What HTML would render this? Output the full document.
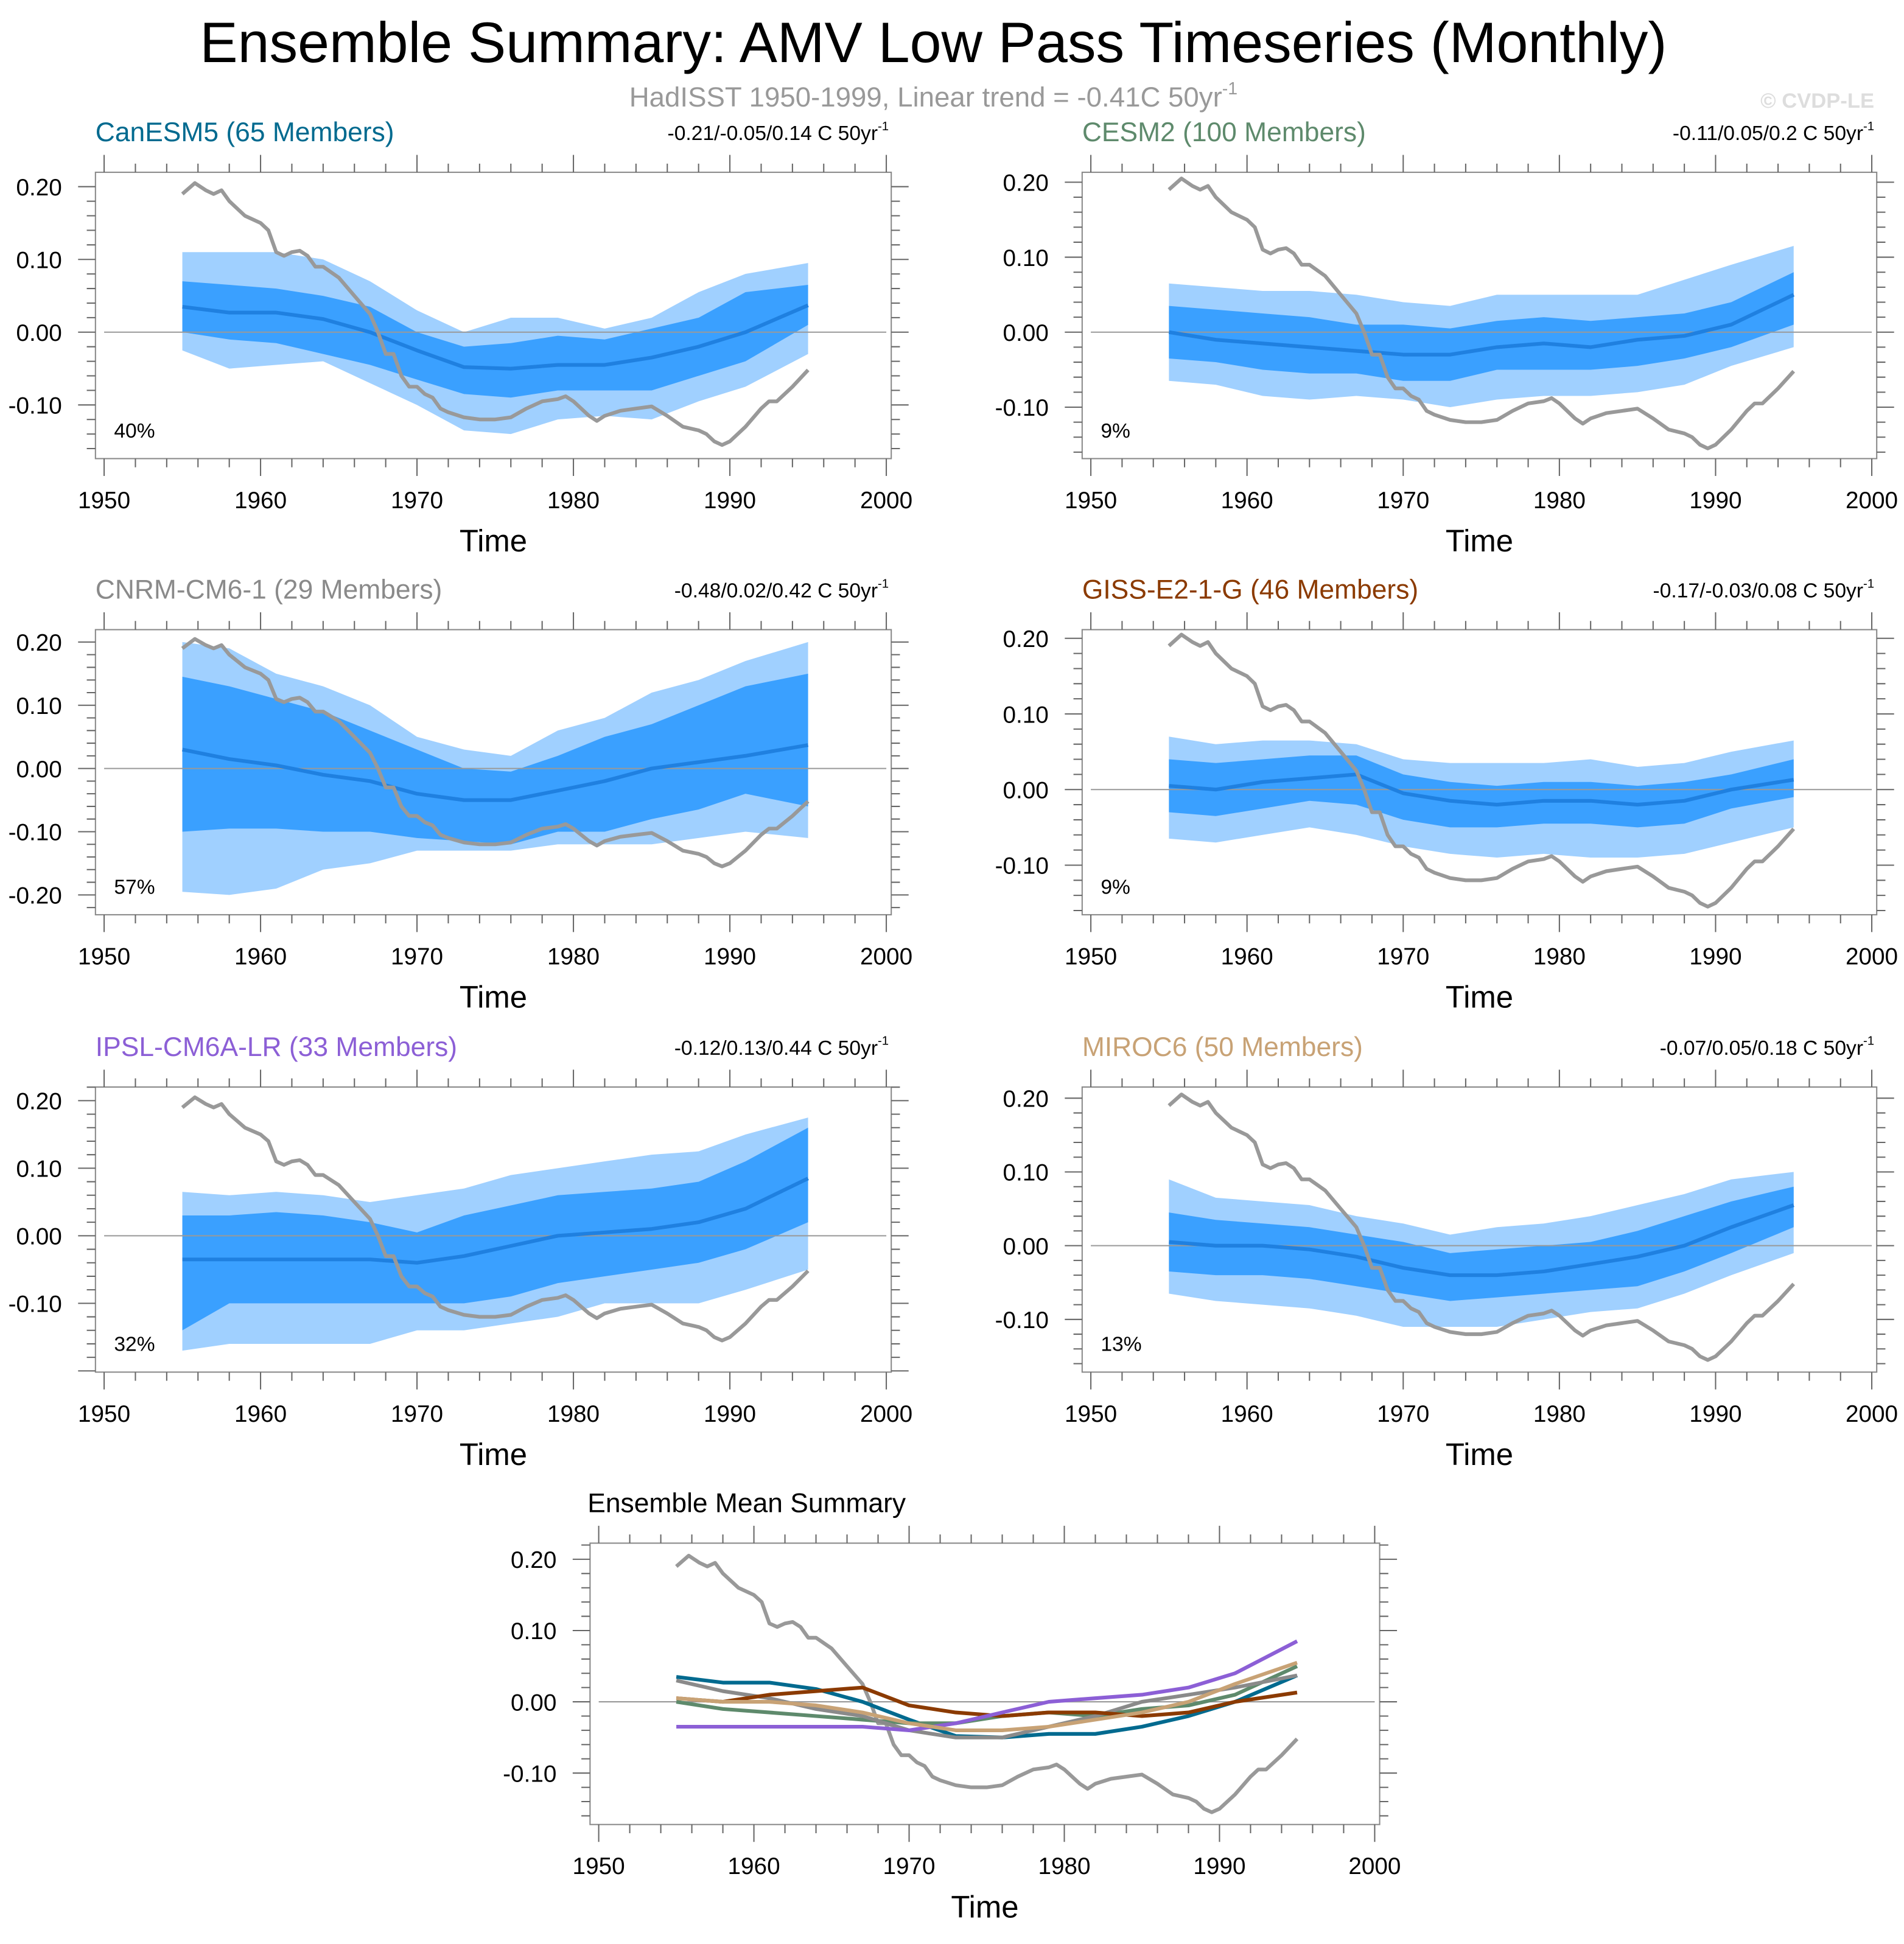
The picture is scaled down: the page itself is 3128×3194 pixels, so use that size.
<!DOCTYPE html>
<html><head><meta charset="utf-8"><style>
html,body{margin:0;padding:0;background:#fff}
svg{display:block;font-family:"Liberation Sans",sans-serif}
</style></head><body>
<svg id="chart" width="3128" height="3194" viewBox="0 0 1536 1568.4" preserveAspectRatio="none" xmlns="http://www.w3.org/2000/svg">
<rect width="1536" height="1568.4" fill="#fff"/>
<text x="753" y="50" font-size="45.8" text-anchor="middle" fill="#000">Ensemble Summary: AMV Low Pass Timeseries (Monthly)</text>
<text x="753" y="86" font-size="22.4" text-anchor="middle" fill="#999">HadISST 1950-1999, Linear trend = -0.41C 50yr<tspan font-size="14" dy="-10">-1</tspan></text>
<text x="1512" y="87" font-size="17" font-weight="bold" text-anchor="end" fill="#ddd">© CVDP-LE</text>
<g id="panels"></g>
</svg>
<script>
const bandYears=[1955,1958,1961,1964,1967,1970,1973,1976,1979,1982,1985,1988,1991,1995];
const obsYears=[1955,1955.8,1956.5,1957,1957.5,1958,1959,1960,1960.5,1961,1961.5,1962,1962.5,1963,1963.5,1964,1965,1966,1967,1967.5,1968,1968.5,1969,1969.5,1970,1970.5,1971,1971.5,1972,1973,1974,1975,1976,1977,1978,1979,1979.5,1980,1981,1981.5,1982,1983,1984,1985,1986,1987,1988,1988.5,1989,1989.5,1990,1991,1992,1992.5,1993,1994,1995];
const obsValues=[0.19,0.205,0.195,0.19,0.195,0.18,0.16,0.15,0.14,0.11,0.105,0.11,0.112,0.105,0.09,0.09,0.075,0.05,0.025,0.0,-0.03,-0.03,-0.06,-0.075,-0.075,-0.085,-0.09,-0.105,-0.11,-0.117,-0.12,-0.12,-0.117,-0.105,-0.095,-0.092,-0.088,-0.095,-0.115,-0.122,-0.115,-0.108,-0.105,-0.102,-0.115,-0.13,-0.135,-0.14,-0.15,-0.155,-0.15,-0.13,-0.105,-0.095,-0.095,-0.075,-0.052];

const canesm5Mean=[.035,.027,.027,.018,.0,-.025,-.048,-.05,-.045,-.045,-.035,-.02,.0,.037];
const canesm5DarkHi=[.07,.065,.06,.05,.035,.0,-.02,-.015,-.005,-.01,.005,.02,.055,.065];
const canesm5DarkLo=[.0,-.01,-.015,-.03,-.045,-.065,-.085,-.09,-.08,-.08,-.08,-.06,-.04,.01];
const canesm5LightHi=[.11,.11,.11,.1,.07,.03,.0,.02,.02,.005,.02,.055,.08,.095];
const canesm5LightLo=[-.025,-.05,-.045,-.04,-.07,-.1,-.135,-.14,-.12,-.115,-.12,-.095,-.075,-.03];

const cesm2Mean=[.0,-.01,-.015,-.02,-.025,-.03,-.03,-.02,-.015,-.02,-.01,-.005,.01,.05];
const cesm2DarkHi=[.035,.03,.025,.02,.01,.01,.005,.015,.02,.015,.02,.025,.04,.08];
const cesm2DarkLo=[-.035,-.04,-.05,-.055,-.055,-.065,-.065,-.05,-.05,-.05,-.045,-.035,-.02,.01];
const cesm2LightHi=[.065,.06,.055,.055,.05,.04,.035,.05,.05,.05,.05,.07,.09,.115];
const cesm2LightLo=[-.065,-.07,-.085,-.09,-.085,-.09,-.1,-.09,-.085,-.085,-.08,-.07,-.045,-.02];

const cnrmMean=[.03,.015,.005,-.01,-.02,-.04,-.05,-.05,-.035,-.02,.0,.01,.02,.037];
const cnrmDarkHi=[.145,.13,.11,.09,.06,.03,.0,-.005,.02,.05,.07,.1,.13,.15];
const cnrmDarkLo=[-.1,-.095,-.095,-.1,-.1,-.11,-.115,-.12,-.1,-.1,-.08,-.065,-.04,-.06];
const cnrmLightHi=[.2,.19,.15,.13,.1,.05,.03,.02,.06,.08,.12,.14,.17,.2];
const cnrmLightLo=[-.195,-.2,-.19,-.16,-.15,-.13,-.13,-.13,-.12,-.12,-.12,-.11,-.1,-.11];

const gissMean=[.005,.0,.01,.015,.02,-.005,-.015,-.02,-.015,-.015,-.02,-.015,.0,.013];
const gissDarkHi=[.04,.035,.04,.045,.045,.02,.01,.005,.01,.01,.005,.01,.02,.04];
const gissDarkLo=[-.03,-.035,-.025,-.015,-.02,-.04,-.05,-.05,-.045,-.045,-.05,-.045,-.025,-.01];
const gissLightHi=[.07,.06,.065,.065,.06,.04,.035,.035,.035,.04,.03,.035,.05,.065];
const gissLightLo=[-.065,-.07,-.06,-.05,-.06,-.075,-.085,-.09,-.085,-.09,-.09,-.085,-.07,-.05];

const ipslMean=[-.035,-.035,-.035,-.035,-.035,-.04,-.03,-.015,.0,.005,.01,.02,.04,.085];
const ipslDarkHi=[.03,.03,.035,.03,.02,.005,.03,.045,.06,.065,.07,.08,.11,.16];
const ipslDarkLo=[-.14,-.1,-.1,-.1,-.1,-.1,-.1,-.09,-.07,-.06,-.05,-.04,-.02,.02];
const ipslLightHi=[.065,.06,.065,.06,.05,.06,.07,.09,.1,.11,.12,.125,.15,.175];
const ipslLightLo=[-.17,-.16,-.16,-.16,-.16,-.14,-.14,-.13,-.12,-.1,-.1,-.1,-.08,-.05];

const mirocMean=[.005,.0,.0,-.005,-.015,-.03,-.04,-.04,-.035,-.025,-.015,.0,.025,.055];
const mirocDarkHi=[.045,.035,.03,.025,.015,.005,-.01,-.005,.0,.005,.02,.04,.06,.08];
const mirocDarkLo=[-.035,-.04,-.04,-.045,-.055,-.065,-.075,-.07,-.065,-.06,-.055,-.035,-.01,.025];
const mirocLightHi=[.09,.065,.06,.055,.04,.03,.015,.025,.03,.04,.055,.07,.09,.1];
const mirocLightLo=[-.065,-.075,-.08,-.085,-.095,-.11,-.11,-.11,-.1,-.09,-.085,-.065,-.04,-.01];

const modelNames=["CanESM5 (65 Members)","CESM2 (100 Members)","CNRM-CM6-1 (29 Members)","GISS-E2-1-G (46 Members)","IPSL-CM6A-LR (33 Members)","MIROC6 (50 Members)"];
const trendLabels=["-0.21/-0.05/0.14 C 50yr","-0.11/0.05/0.2 C 50yr","-0.48/0.02/0.42 C 50yr","-0.17/-0.03/0.08 C 50yr","-0.12/0.13/0.44 C 50yr","-0.07/0.05/0.18 C 50yr"];
const pctLabels=["40%","9%","57%","9%","32%","13%"];
const xTickLabels=[1950,1960,1970,1980,1990,2000];
const yTickStd=[0.2,0.1,0,-0.1];
const yTickCnrm=[0.2,0.1,0,-0.1,-0.2];

const modelData=[
 [canesm5Mean,canesm5DarkHi,canesm5DarkLo,canesm5LightHi,canesm5LightLo],
 [cesm2Mean,cesm2DarkHi,cesm2DarkLo,cesm2LightHi,cesm2LightLo],
 [cnrmMean,cnrmDarkHi,cnrmDarkLo,cnrmLightHi,cnrmLightLo],
 [gissMean,gissDarkHi,gissDarkLo,gissLightHi,gissLightLo],
 [ipslMean,ipslDarkHi,ipslDarkLo,ipslLightHi,ipslLightLo],
 [mirocMean,mirocDarkHi,mirocDarkLo,mirocLightHi,mirocLightLo]];
const colors=["#006a8f","#5e8a6c","#8a8a8a","#8b3a00","#8c5fd6","#c8a275"];
const slugs=["canesm5","cesm2","cnrm-cm6-1","giss-e2-1-g","ipsl-cm6a-lr","miroc6"];

const layout=[
 {l:77,r:719,t:139,b:370,z:268,u:58.7},
 {l:873,r:1514,t:139,b:370,z:268,u:60.5},
 {l:77,r:719,t:508,b:738,z:620,u:51},
 {l:873,r:1514,t:508,b:738,z:637,u:61},
 {l:77,r:719,t:877,b:1107,z:997,u:54.5},
 {l:873,r:1514,t:877,b:1107,z:1005,u:59.5}];
const bottomLayout={l:476,r:1113,t:1245,b:1472,z:1373,u:57.5};

const NS="http://www.w3.org/2000/svg";
const root=document.getElementById('panels');
function mk(tag,attrs,parent){const e=document.createElementNS(NS,tag);for(const k in attrs)e.setAttribute(k,attrs[k]);(parent||root).appendChild(e);return e;}

function drawAxes(g,L,yTicks,slug){
 const xs=yr=>L.l+7+(yr-1950)*(L.r-L.l-11)/50;
 const ys=v=>L.z-v*L.u*10;
 const frame=mk('rect',{x:L.l,y:L.t,width:L.r-L.l,height:L.b-L.t,fill:'none',stroke:'#888','stroke-width':1},g);
 
 
 let d='';
 for(let yr=1950;yr<=2000;yr+=2){const x=xs(yr);const maj=(yr%10===0);const len=maj?14:7;
  d+=`M${x},${L.b}v${len}M${x},${L.t}v${-len}`;}
 const vmax=(L.z-L.t)/(L.u*10), vmin=(L.z-L.b)/(L.u*10);
 for(let k=Math.ceil(vmin*50);k<=Math.floor(vmax*50);k++){const v=k/50;const y=ys(v);const maj=(k%5===0);const len=maj?14:7;
  d+=`M${L.l},${y}h${-len}M${L.r},${y}h${len}`;}
 const ticks=mk('path',{d:d,stroke:'#666','stroke-width':1,fill:'none'},g);
 
 
 xTickLabels.forEach(yr=>{const t=mk('text',{x:xs(yr),y:L.b+40,'font-size':19,'text-anchor':'middle'},g);t.textContent=yr;
  
  });
 yTicks.forEach(v=>{const t=mk('text',{x:L.l-27,y:ys(v)+7,'font-size':19,'text-anchor':'end'},g);t.textContent=v.toFixed(2);
  
  });
 const xt=mk('text',{x:(L.l+L.r)/2,y:L.b+75,'font-size':25,'text-anchor':'middle'},g);xt.textContent='Time';
 
 
 const zl=mk('line',{x1:xs(1950),x2:xs(2000),y1:ys(0),y2:ys(0),stroke:'#999','stroke-width':1},g);
 
 
 return {xs,ys};
}
function linePath(xv,yv,xs,ys){return xv.map((x,i)=>(i?'L':'M')+xs(x).toFixed(1)+','+ys(yv[i]).toFixed(1)).join('');}
function bandPath(xv,hi,lo,xs,ys){let d=linePath(xv,hi,xs,ys);for(let i=xv.length-1;i>=0;i--)d+='L'+xs(xv[i]).toFixed(1)+','+ys(lo[i]).toFixed(1);return d+'Z';}

layout.forEach((L,i)=>{
 const g=mk('g',{});
 
 
 const [mean,dhi,dlo,lhi,llo]=modelData[i];
 const tmp={xs:yr=>L.l+7+(yr-1950)*(L.r-L.l-11)/50,ys:v=>L.z-v*L.u*10};
 const lb=mk('path',{d:bandPath(bandYears,lhi,llo,tmp.xs,tmp.ys),fill:'#a0d0ff'},g);
 
 
 const db=mk('path',{d:bandPath(bandYears,dhi,dlo,tmp.xs,tmp.ys),fill:'#3aa0ff'},g);
 
 
 const {xs,ys}=drawAxes(g,L,i===2?yTickCnrm:yTickStd,slugs[i]);
 const ml=mk('path',{d:linePath(bandYears,mean,xs,ys),stroke:'#1f80e0','stroke-width':3,fill:'none','stroke-linejoin':'round'},g);
 
 
 const ol=mk('path',{d:linePath(obsYears,obsValues,xs,ys),stroke:'#999','stroke-width':3,fill:'none','stroke-linejoin':'round'},g);
 
 
 const tt=mk('text',{x:L.l,y:L.t-25,'font-size':21.8,fill:colors[i]},g);tt.textContent=modelNames[i];
 
 
 const tr=mk('text',{x:L.r-2,y:L.t-26,'font-size':16.5,'text-anchor':'end'},g);tr.textContent=trendLabels[i];
 const sup=mk('tspan',{'font-size':10,dy:-8},tr);sup.textContent='-1';
 
 
 const pc=mk('text',{x:L.l+15,y:L.b-17,'font-size':16.5},g);pc.textContent=pctLabels[i];
 
 
});

(function(){
 const L=bottomLayout;
 const g=mk('g',{});
 
 
 const {xs,ys}=drawAxes(g,L,yTickStd,'summary');
 const ol=mk('path',{d:linePath(obsYears,obsValues,xs,ys),stroke:'#999','stroke-width':3,fill:'none','stroke-linejoin':'round'},g);
 
 
 modelData.forEach((md,i)=>{
  const p=mk('path',{d:linePath(bandYears,md[0],xs,ys),stroke:colors[i],'stroke-width':3,fill:'none','stroke-linejoin':'round'},g);
  
  
 });
 const tt=mk('text',{x:L.l-2,y:L.t-25,'font-size':21.8},g);tt.textContent='Ensemble Mean Summary';
 
 
})();
</script>
</body></html>
